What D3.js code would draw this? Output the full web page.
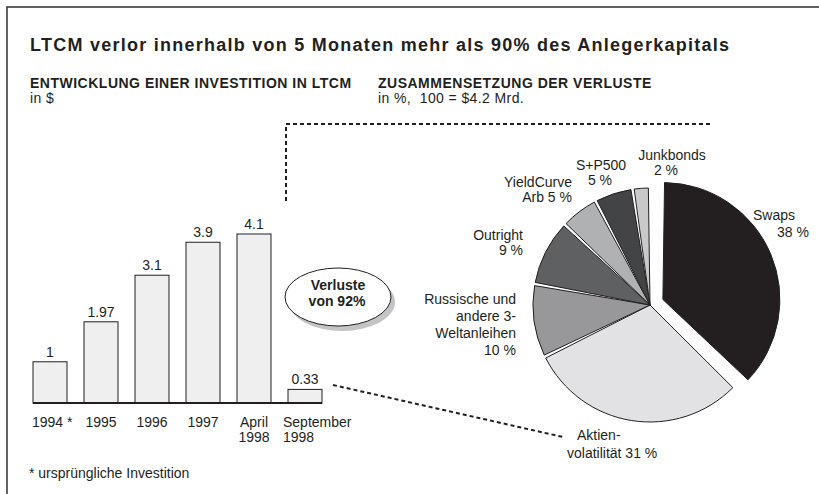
<!DOCTYPE html>
<html>
<head>
<meta charset="utf-8">
<script src="https://cdn.jsdelivr.net/npm/d3@7"></script>
<style>
  html, body { margin: 0; padding: 0; background: #fff; }
  svg { display: block; font-family: "Liberation Sans", Arial, sans-serif; }
</style>
</head>
<body>
<div id="chart"></div>
<script>
// bar chart: value of 1 $ invested
const years = ["1994", "1995", "1996", "1997", "April 1998", "September 1998"];
const yearLines = [["1994 *"], ["1995"], ["1996"], ["1997"], ["April", "1998"], ["September", "1998"]];
const investValues = [1, 1.97, 3.1, 3.9, 4.1, 0.33];
const investLabels = ["1", "1.97", "3.1", "3.9", "4.1", "0.33"];

// pie: composition of losses, clockwise from top
const lossNames = ["Swaps", "Aktienvolatilität", "Russische", "Outright", "YieldCurve", "S+P500", "Junkbonds"];
const lossValues = [38, 31, 10, 9, 5, 5, 2];
const lossColors = ["#231f20", "#e2e2e4", "#98989b", "#5f6062", "#b0b1b3", "#434446", "#c8c9cb"];

const width = 819, height = 494;
const ink = "#231f20";

const svg = d3.select("#chart").append("svg")
  .attr("width", width)
  .attr("height", height);

// frame
svg.append("rect")
  .attr("x", 7).attr("y", 7)
  .attr("width", 840).attr("height", 520)
  .attr("fill", "none")
  .attr("stroke", "#3a3a3a")
  .attr("stroke-width", 1.6);

// titles
svg.append("text")
  .attr("x", 30).attr("y", 51)
  .attr("font-size", 18).attr("font-weight", "bold").attr("fill", ink)
  .attr("letter-spacing", 1.25)
  .text("LTCM verlor innerhalb von 5 Monaten mehr als 90% des Anlegerkapitals");

const heads = [
  { x: 30, title: "ENTWICKLUNG EINER INVESTITION IN LTCM", unit: "in $" },
  { x: 378, title: "ZUSAMMENSETZUNG DER VERLUSTE", unit: "in %,\u00a0\u00a0100 = $4.2 Mrd." }
];
heads.forEach(h => {
  svg.append("text")
    .attr("x", h.x).attr("y", 88)
    .attr("font-size", 14).attr("font-weight", "bold").attr("fill", ink)
    .attr("letter-spacing", 0.5)
    .text(h.title);
  svg.append("text")
    .attr("x", h.x).attr("y", 103)
    .attr("font-size", 14).attr("fill", ink)
    .attr("letter-spacing", 0.4)
    .text(h.unit);
});

// ---- bars ----
const baseY = 403;
const x = d3.scaleBand()
  .domain(years)
  .range([33, 322])
  .paddingInner(1 / 3)
  .paddingOuter(0);
const y = d3.scaleLinear()
  .domain([0, 4.1])
  .range([baseY, baseY - 169]);

const bars = svg.append("g");
bars.selectAll("rect")
  .data(years)
  .join("rect")
  .attr("x", d => x(d))
  .attr("y", (d, i) => y(investValues[i]))
  .attr("width", x.bandwidth())
  .attr("height", (d, i) => baseY - y(investValues[i]))
  .attr("fill", "#efeff0")
  .attr("stroke", ink)
  .attr("stroke-width", 1);

bars.selectAll("text.val")
  .data(years)
  .join("text")
  .attr("class", "val")
  .attr("x", d => x(d) + x.bandwidth() / 2)
  .attr("y", (d, i) => y(investValues[i]) - 5)
  .attr("text-anchor", "middle")
  .attr("font-size", 14).attr("fill", ink)
  .text((d, i) => investLabels[i]);

// baseline
svg.append("line")
  .attr("x1", x.range()[0]).attr("x2", x.range()[1])
  .attr("y1", baseY).attr("y2", baseY)
  .attr("stroke", ink).attr("stroke-width", 2.2);

// category labels
const cat = svg.append("g")
  .selectAll("text")
  .data(years)
  .join("text")
  .attr("font-size", 14).attr("fill", ink)
  .attr("text-anchor", (d, i) => (i === 0 || i === years.length - 1) ? "start" : "middle")
  .attr("transform", (d, i) => {
    let px = x(d) + x.bandwidth() / 2;
    if (i === 0) px = x(d) - 1;
    if (i === years.length - 1) px = x(d) - 5;
    return `translate(${px},${baseY + 24})`;
  });
cat.selectAll("tspan")
  .data((d, i) => yearLines[i])
  .join("tspan")
  .attr("x", 0)
  .attr("dy", (d, j) => j === 0 ? 0 : 15)
  .text(d => d);

// callout ellipse
const callout = svg.append("g").attr("transform", "translate(338,297)");
callout.append("ellipse")
  .attr("cx", 4).attr("cy", 5).attr("rx", 53).attr("ry", 29)
  .attr("fill", "#c4c4c6");
callout.append("ellipse")
  .attr("rx", 53).attr("ry", 29)
  .attr("fill", "#fff").attr("stroke", ink).attr("stroke-width", 1);
callout.append("text")
  .attr("text-anchor", "middle").attr("y", -7)
  .attr("font-size", 14).attr("font-weight", "bold").attr("fill", ink)
  .text("Verluste");
callout.append("text")
  .attr("text-anchor", "middle").attr("x", -1).attr("y", 9)
  .attr("font-size", 14).attr("font-weight", "bold").attr("fill", ink)
  .text("von 92%");

// dashed connectors
const dash = svg.append("g")
  .attr("fill", "none").attr("stroke", ink)
  .attr("stroke-width", 2).attr("stroke-dasharray", "4,3");
dash.append("path").attr("d", "M286,201V124H712");
dash.append("path").attr("d", "M333,385L563,437");

// ---- pie ----
const cx = 650, cy = 305, R = 117;
const pie = d3.pie().sort(null).padAngle(0.028)(lossValues);
const arc = d3.arc().innerRadius(0).outerRadius(R);

const pg = svg.append("g").attr("transform", `translate(${cx},${cy})`);
pg.selectAll("path")
  .data(pie)
  .join("path")
  .attr("transform", (d, i) => {
    if (i !== 0) return null;
    const a = (d.startAngle + d.endAngle) / 2;
    const off = 14;
    return `translate(${off * Math.sin(a)},${-off * Math.cos(a)})`;
  })
  .attr("d", arc)
  .attr("fill", (d, i) => lossColors[i])
  .attr("stroke", ink)
  .attr("stroke-width", 1)
  .attr("stroke-linejoin", "round");

// pie labels: [lines, anchor, x, first baseline, second-line dx]
const pieLabels = [
  [["Swaps"], "start", 753, 220, 0],
  [["38 %"], "end", 809, 237, 0],
  [["Aktien-"], "start", 577, 440, 0],
  [["volatilität 31 %"], "start", 567, 458, 0],
  [["Russische und", "andere 3-", "Weltanleihen", "10 %"], "end", 516, 304, 0],
  [["Outright", "9 %"], "end", 523, 240, 0],
  [["YieldCurve", "Arb 5 %"], "end", 572, 187, 0],
  [["S+P500", "5 %"], "middle", 601, 170, -1],
  [["Junkbonds", "2 %"], "middle", 672, 160, -6]
];
const pl = svg.append("g")
  .selectAll("text")
  .data(pieLabels)
  .join("text")
  .attr("font-size", 14).attr("fill", ink)
  .attr("text-anchor", d => d[1])
  .attr("transform", d => `translate(${d[2]},${d[3]})`);
pl.selectAll("tspan")
  .data(d => d[0].map((t, j) => ({ t, j, n: d[0].length, dx: d[4] })))
  .join("tspan")
  .attr("x", d => d.j === 0 ? 0 : d.dx)
  .attr("dy", d => d.j === 0 ? 0 : (d.n > 2 ? 17 : 15))
  .text(d => d.t);

// footnote
svg.append("text")
  .attr("x", 29).attr("y", 478)
  .attr("font-size", 14).attr("fill", ink)
  .text("* ursprüngliche Investition");
</script>
</body>
</html>
